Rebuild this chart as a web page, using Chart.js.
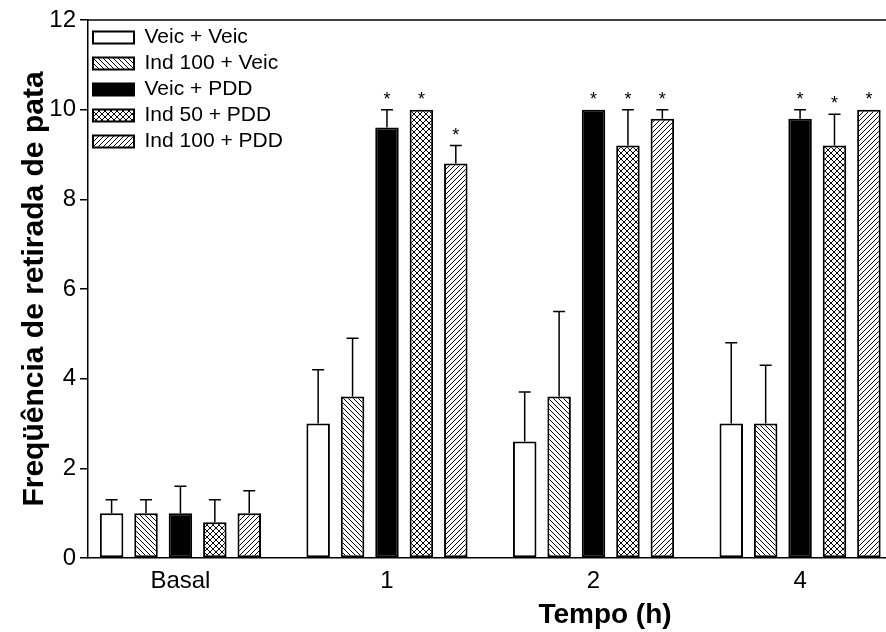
<!DOCTYPE html>
<html lang="pt">
<head>
    <meta charset="UTF-8">
    <title>Freqüência de retirada de pata</title>
    <!-- Chart.js -->
    <script src="https://cdn.jsdelivr.net/npm/chart.js"></script>
    <style>
        body { margin: 0; background: #fff; overflow: hidden; }
        #grafico { display: block; }
    </style>
</head>
<body>
<canvas id="grafico" width="886" height="632"></canvas>
<script>
    // Dados
    const tempos = ["Basal", "1", "2", "4"];
    const grupos = ["Veic + Veic", "Ind 100 + Veic", "Veic + PDD", "Ind 50 + PDD", "Ind 100 + PDD"];

    const veicVeic   = [1.0, 3.0, 2.6, 3.0];
    const ind100Veic = [1.0, 3.6, 3.6, 3.0];
    const veicPdd    = [1.0, 9.6, 10.0, 9.8];
    const ind50Pdd   = [0.8, 10.0, 9.2, 9.2];
    const ind100Pdd  = [1.0, 8.8, 9.8, 10.0];

    // Erro (só a barra de cima aparece no gráfico)
    const erroVeicVeic   = [0.3, 1.2, 1.1, 1.8];
    const erroInd100Veic = [0.3, 1.3, 1.9, 1.3];
    const erroVeicPdd    = [0.6, 0.4, 0.0, 0.2];
    const erroInd50Pdd   = [0.5, 0.0, 0.8, 0.7];
    const erroInd100Pdd  = [0.5, 0.4, 0.2, 0.0];

    // Asterisco = diferença significativa
    const sigVeicVeic   = [false, false, false, false];
    const sigInd100Veic = [false, false, false, false];
    const sigVeicPdd    = [false, true, true, true];
    const sigInd50Pdd   = [false, true, true, true];
    const sigInd100Pdd  = [false, true, true, true];

    const ticksY = [0, 2, 4, 6, 8, 10, 12];

    Chart.defaults.font.family = 'Arial, "Liberation Sans", sans-serif';
    Chart.defaults.color = '#000';

    // Cria os padrões de hachura usados nas barras
    function criarPadrao(tipo) {
        const s = tipo === 'cruz' ? 6 : 5;
        const c = document.createElement('canvas');
        c.width = s; c.height = s;
        const g = c.getContext('2d');
        g.fillStyle = '#fff';
        g.fillRect(0, 0, s, s);
        g.strokeStyle = '#000';
        g.lineWidth = 1;
        g.beginPath();
        for (const k of [-s, 0, s]) {
            if (tipo === 'contra' || tipo === 'cruz') { g.moveTo(k, 0); g.lineTo(k + s, s); }
            if (tipo === 'barra' || tipo === 'cruz') { g.moveTo(k, s); g.lineTo(k + s, 0); }
        }
        g.stroke();
        return g.createPattern(c, 'repeat');
    }

    const ctx = document.getElementById('grafico').getContext('2d');

    function serie(i, valores, erros, sig, fundo) {
        return {
            label: grupos[i],
            data: valores.map((v, k) => ({ x: k, y: v })),
            erro: erros,
            sig: sig,
            backgroundColor: fundo,
            borderColor: '#000',
            borderWidth: 2,
            borderSkipped: false
        };
    }

    // Barras de erro e asteriscos
    const pluginErros = {
        id: 'erros',
        afterDatasetsDraw(chart) {
            const c = chart.ctx;
            const y = chart.scales.y;
            c.save();
            c.strokeStyle = '#000';
            c.fillStyle = '#000';
            c.lineWidth = 1.5;
            c.font = '18px Arial, "Liberation Sans", sans-serif';
            c.textAlign = 'center';
            c.textBaseline = 'alphabetic';
            chart.data.datasets.forEach((ds, d) => {
                chart.getDatasetMeta(d).data.forEach((bar, i) => {
                    const yTopo = y.getPixelForValue(ds.data[i].y + ds.erro[i]);
                    if (ds.erro[i] > 0) {
                        c.beginPath();
                        c.moveTo(bar.x, bar.y);
                        c.lineTo(bar.x, yTopo);
                        c.moveTo(bar.x - 6, yTopo);
                        c.lineTo(bar.x + 6, yTopo);
                        c.stroke();
                    }
                    if (ds.sig[i]) {
                        c.fillText('*', bar.x, yTopo - 5);
                    }
                });
            });
            c.restore();
        },
        afterDraw(chart) {
            const c = chart.ctx;
            const a = chart.chartArea;
            c.save();
            // linha de cima
            c.strokeStyle = '#000';
            c.lineWidth = 1.5;
            c.beginPath();
            c.moveTo(a.left, a.top);
            c.lineTo(a.right, a.top);
            c.stroke();
            // título do eixo x
            c.fillStyle = '#000';
            c.font = 'bold 28px Arial, "Liberation Sans", sans-serif';
            c.textAlign = 'center';
            c.textBaseline = 'alphabetic';
            c.fillText('Tempo (h)', 605, 623);
            c.restore();
        }
    };

    new Chart(ctx, {
        type: 'bar',
        data: {
            datasets: [
                serie(0, veicVeic, erroVeicVeic, sigVeicVeic, '#fff'),
                serie(1, ind100Veic, erroInd100Veic, sigInd100Veic, criarPadrao('contra')),
                serie(2, veicPdd, erroVeicPdd, sigVeicPdd, '#000'),
                serie(3, ind50Pdd, erroInd50Pdd, sigInd50Pdd, criarPadrao('cruz')),
                serie(4, ind100Pdd, erroInd100Pdd, sigInd100Pdd, criarPadrao('barra'))
            ]
        },
        options: {
            responsive: false,
            animation: false,
            events: [],
            categoryPercentage: 0.833,
            barPercentage: 0.683,
            layout: { padding: { top: 20, right: 0, left: 0, bottom: 0 } },
            scales: {
                x: {
                    type: 'linear',
                    offset: false,
                    min: -0.4475,
                    max: 3.416,
                    afterBuildTicks: ax => { ax.ticks = tempos.map((t, i) => ({ value: i })); },
                    afterFit: ax => { ax.height = 74; },
                    ticks: {
                        callback: v => tempos[v],
                        font: { size: 24 },
                        color: '#000',
                        padding: 9,
                        autoSkip: false,
                        maxRotation: 0
                    },
                    grid: { display: false, drawTicks: false, offset: false },
                    border: { color: '#000', width: 1.5 }
                },
                y: {
                    min: 0,
                    max: 12,
                    afterBuildTicks: ax => { ax.ticks = ticksY.map(v => ({ value: v })); },
                    afterFit: ax => { ax.width = 88; },
                    ticks: { font: { size: 24 }, color: '#000', padding: 4 },
                    grid: { drawOnChartArea: false, tickLength: 8, color: '#000', lineWidth: 1.5 },
                    border: { color: '#000', width: 1.5 },
                    title: {
                        display: true,
                        text: 'Freqüência de retirada de pata',
                        font: { size: 30, weight: 'bold' },
                        color: '#000',
                        padding: { top: 17, bottom: 0 }
                    }
                }
            },
            plugins: {
                tooltip: { enabled: false },
                legend: {
                    position: 'chartArea',
                    align: 'start',
                    title: { display: true, text: ' ', font: { size: 10 }, padding: { top: 10, bottom: 0 } },
                    labels: {
                        boxWidth: 41,
                        boxHeight: 12,
                        padding: 5,
                        font: { size: 21 },
                        color: '#000'
                    }
                }
            }
        },
        plugins: [pluginErros]
    });
</script>
</body>
</html>
